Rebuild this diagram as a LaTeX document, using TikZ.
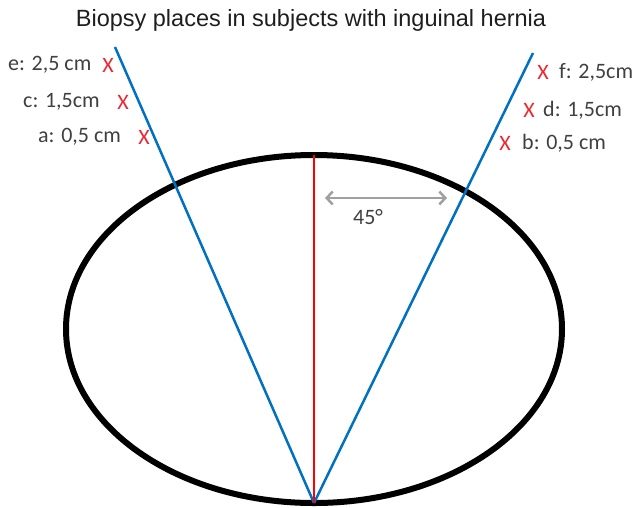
\documentclass[tikz,border=0pt]{standalone}
\usepackage{fontspec}
\setmainfont{Carlito}
\newfontfamily\titlefont{Liberation Sans}
\usetikzlibrary{arrows.meta}
\definecolor{lineblue}{RGB}{0,112,192}
\definecolor{markred}{RGB}{235,40,50}
\definecolor{arrowgray}{RGB}{160,160,160}
\definecolor{labelgray}{RGB}{64,64,64}
\tikzset{
    place/.style={anchor=west, text=labelgray, font=\fontsize{22}{26}\selectfont, inner sep=0pt},
    cross/.style={text=markred, font=\fontsize{22}{26}\selectfont, inner sep=0pt},
    cut/.style={lineblue, line width=2.5pt}
}
\begin{document}
\begin{tikzpicture}[x=1pt, y=-1pt]
    \useasboundingbox (0,0) rectangle (632,507);
    \clip (0,0) rectangle (632,507);

    \node[font=\titlefont\fontsize{23.5}{27}\selectfont, text={rgb,255:red,30;green,30;blue,30}] (title) at (311,20) {Biopsy places in subjects with inguinal hernia};

    % body outline
    \draw[line width=6pt] (314,329) ellipse (248 and 174);

    \coordinate (apex) at (314,503);
    \coordinate (top) at (314,155);
    \coordinate (leftend) at (115,47);
    \coordinate (rightend) at (533,53);

    \draw[cut] (apex) -- (leftend);
    \draw[cut] (apex) -- (rightend);
    \draw[red, line width=2.5pt] (apex) -- (top);

    % angle
    \coordinate (angA) at (325,198);
    \coordinate (angB) at (447,198);
    \draw[arrowgray, line width=2.5pt, {Straight Barb[length=6pt,width=13pt]}-{Straight Barb[length=6pt,width=13pt]}] (angA) -- (angB);
    \node[text=labelgray, font=\fontsize{22}{26}\selectfont] (angle) at (368,217) {45°};

    % left side
    \node[place] (e) at (8,65) {e: 2,5 cm};
    \node[cross] (xe) at (108,65) {X};
    \node[place] (c) at (23,102) {c: 1,5cm};
    \node[cross] (xc) at (123,102) {X};
    \node[place] (a) at (38,137) {a: 0,5 cm};
    \node[cross] (xa) at (144,137) {X};

    % right side
    \node[cross] (xf) at (543,72) {X};
    \node[place] (f) at (559,72) {f: 2,5cm};
    \node[cross] (xd) at (529,110) {X};
    \node[place] (d) at (543,110) {d: 1,5cm};
    \node[cross] (xb) at (505,143) {X};
    \node[place] (b) at (522,143) {b: 0,5 cm};
\end{tikzpicture}
\end{document}
